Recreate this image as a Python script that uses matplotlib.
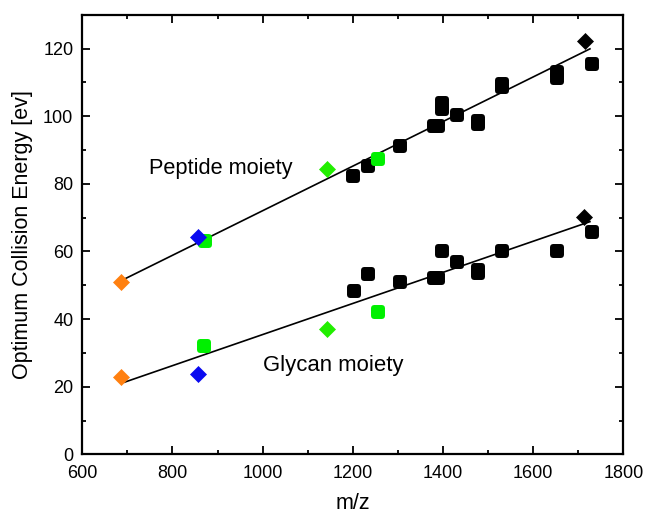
import matplotlib
matplotlib.use("Agg")
import matplotlib.pyplot as plt
from matplotlib.markers import MarkerStyle
from matplotlib.ticker import MultipleLocator

plt.rcParams['font.family'] = ['Liberation Sans', 'DejaVu Sans']

# ---- Peptide moiety data ----
pep_black_x = [1200, 1234, 1305, 1380, 1390, 1397, 1397, 1430, 1478, 1478, 1530, 1530, 1652, 1652, 1731]
pep_black_y = [82.2, 85.2, 91.3, 97.2, 97.2, 102.2, 104.0, 100.2, 97.8, 98.6, 108.6, 109.4, 111.3, 113.0, 115.5]
pep_green_sq_x = [872, 1255]
pep_green_sq_y = [63.0, 87.3]
pep_green_dia_x = [1143]
pep_green_dia_y = [84.3]
pep_orange_x = [685]
pep_orange_y = [51.1]
pep_blue_x = [857]
pep_blue_y = [64.2]
pep_black_dia_x = [1715]
pep_black_dia_y = [122.2]
pep_fit_x = [690, 1726]
pep_fit_y = [51.6, 119.9]

# ---- Glycan moiety data ----
gly_black_x = [1203, 1234, 1305, 1380, 1390, 1397, 1430, 1478, 1478, 1530, 1652, 1731]
gly_black_y = [48.3, 53.4, 51.1, 52.1, 52.1, 60.0, 57.0, 53.6, 54.6, 60.0, 60.0, 65.6]
gly_green_sq_x = [870, 1255]
gly_green_sq_y = [32.1, 42.2]
gly_green_dia_x = [1143]
gly_green_dia_y = [37.1]
gly_orange_x = [685]
gly_orange_y = [23.0]
gly_blue_x = [857]
gly_blue_y = [23.8]
gly_black_dia_x = [1713]
gly_black_dia_y = [70.2]
gly_fit_x = [693, 1726]
gly_fit_y = [21.3, 68.8]

fig = plt.figure(figsize=(6.47, 5.14), dpi=100)
ax = fig.add_axes([0.1272, 0.1161, 0.9634 - 0.1272, 0.9714 - 0.1161])

sq = MarkerStyle('s', joinstyle='round')
dia = MarkerStyle('D', joinstyle='miter')

GREEN = '#00f000'
GREEN_D = '#22ee00'
ORANGE = '#ff8010'
BLUE = '#0a0af0'

def rsq(x, y, c, z=3):
    ax.plot(x, y, linestyle='none', marker=sq, markersize=5.6, markerfacecolor=c,
            markeredgecolor=c, markeredgewidth=4.3, zorder=z)

def dmd(x, y, c, z=4):
    ax.plot(x, y, linestyle='none', marker=dia, markersize=8.0, markerfacecolor=c,
            markeredgecolor=c, markeredgewidth=0.5, zorder=z)

ax.plot(pep_fit_x, pep_fit_y, color='black', lw=1.2, zorder=2)
ax.plot(gly_fit_x, gly_fit_y, color='black', lw=1.2, zorder=2)

rsq(pep_black_x, pep_black_y, 'black')
rsq(gly_black_x, gly_black_y, 'black')
rsq(pep_green_sq_x, pep_green_sq_y, GREEN)
rsq(gly_green_sq_x, gly_green_sq_y, GREEN)
dmd(pep_green_dia_x, pep_green_dia_y, GREEN_D)
dmd(gly_green_dia_x, gly_green_dia_y, GREEN_D)
dmd(pep_orange_x, pep_orange_y, ORANGE)
dmd(gly_orange_x, gly_orange_y, ORANGE)
dmd(pep_blue_x, pep_blue_y, BLUE)
dmd(gly_blue_x, gly_blue_y, BLUE)
dmd(pep_black_dia_x, pep_black_dia_y, 'black')
dmd(gly_black_dia_x, gly_black_dia_y, 'black')

ax.text(749, 84.6, 'Peptide moiety', fontsize=15.7, ha='left', va='center')
ax.text(1001, 26.4, 'Glycan moiety', fontsize=15.9, ha='left', va='center')

ax.set_xlim(600, 1800)
ax.set_ylim(0, 130)
ax.xaxis.set_major_locator(MultipleLocator(200))
ax.xaxis.set_minor_locator(MultipleLocator(100))
ax.yaxis.set_major_locator(MultipleLocator(20))
ax.yaxis.set_minor_locator(MultipleLocator(10))
ax.tick_params(which='both', direction='in', top=True, right=True, labelsize=13, width=1.3)
ax.tick_params(which='major', length=6)
ax.tick_params(which='minor', length=3)
ax.tick_params(axis='x', which='major', pad=7.5)
ax.tick_params(axis='y', which='major', pad=6.5)
for s in ax.spines.values():
    s.set_linewidth(1.6)

ax.set_xlabel('m/z', fontsize=15.5, labelpad=8)
ax.set_ylabel('Optimum Collision Energy [ev]', fontsize=15.5, labelpad=7)

fig.savefig('out.png', dpi=100)
